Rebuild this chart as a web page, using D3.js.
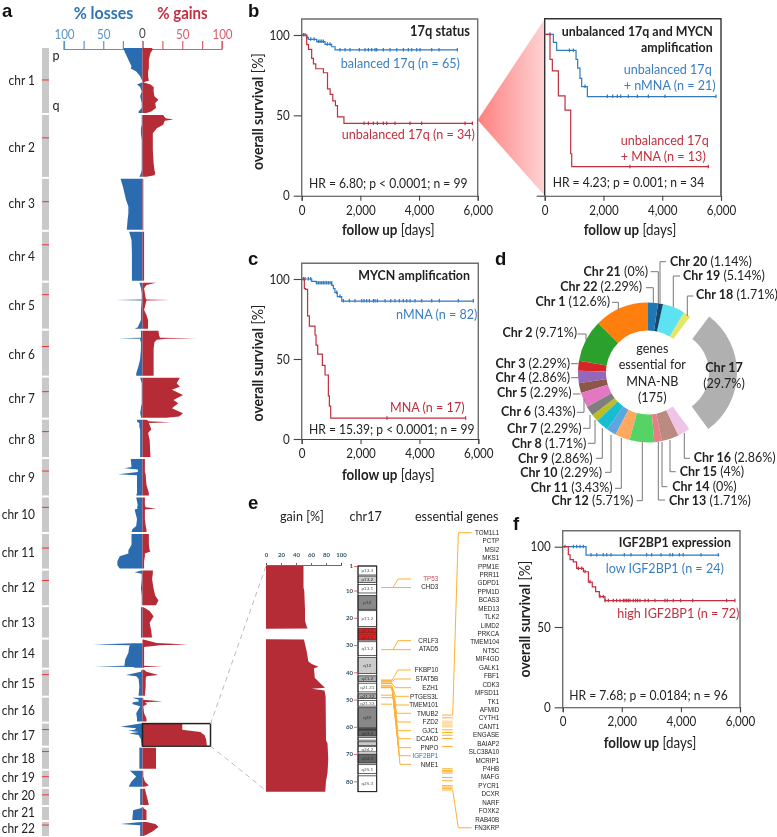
<!DOCTYPE html>
<html><head><meta charset="utf-8">
<script src="https://cdn.jsdelivr.net/npm/d3@7/dist/d3.min.js"></script>
<style>html,body{margin:0;padding:0;background:#fff}svg{display:block;filter:blur(.35px)}text{font-family:Lato,"Open Sans",sans-serif;fill:#222}</style>
</head><body><svg id="c" width="777" height="837"></svg>
<script>
// ---------- panel a data ----------
const chrNames = ["chr 1","chr 2","chr 3","chr 4","chr 5","chr 6","chr 7","chr 8","chr 9","chr 10","chr 11","chr 12","chr 13","chr 14","chr 15","chr 16","chr 17","chr 18","chr 19","chr 20","chr 21","chr 22"];
const chrLengths = [250,238,196,188,177,173,154,144,140,133,133,133,117,108,100,92,85,81,62,62,50,54];
const centromeres = [123,88,88,50,46,61,54,46,46,38,54,38,null,null,19,null,23,15,23,23,null,12];
// [Mb, % losses, % gains]
const prof1 = [[0,24,12],[6,24,13],[19,22,10],[32,20,9],[45,18,8],[58,16,8],[70,14,8],[79,15,8],[90,8,7],[109,3,7],[126,.5,8],[132,0,1],[140,7,10],[150,3,14],[167,1,14],[186,3,15],[199,2,20],[212,1,16],[231,1,17],[244,5,11],[250,5,5]];
const prof2 = [[0,1,26],[13,1,29],[17,1,39],[22,1,28],[38,1,26],[51,2,18],[70,2,13],[96,1,13],[135,1,13],[186,1,14],[212,1,15],[224,2,16],[232,3,15],[238,4,5]];
const prof3 = [[0,28,1],[29,25,1],[68,22,1],[81,21,1],[106,18,1],[132,18,1],[158,19,1],[196,20,1]];
const prof4 = [[0,17,2],[32,14,2],[83,13.5,2],[188,13.5,2]];
const prof5 = [[0,4,17],[9,3,5],[22,2,2],[41,1,3],[60,1,4],[65,1,5],[67,34,35],[69,1,5],[105,2,2],[124,2,5],[144,2,7],[172,6,7],[177,10,7]];
const prof6 = [[0,2,20],[20,2,21],[27,2,22],[29,31,68],[31,3,30],[35,3,18],[45,2,15],[70,2,14],[110,3,14],[135,5,14],[165,8,14],[173,8,14]];
const prof7 = [[0,3,47],[22,1,43],[35,1,47],[47,1,37],[67,1,51],[86,1,39],[99,1,45],[118,2,37],[137,3,51],[150,2,46],[154,2,30]];
const prof8 = [[0,7,5],[6,7,8],[10,6,35],[13,4,8],[28,4,10],[38,3,11],[51,3,7],[77,3,9],[144,3,10]];
const prof9 = [[0,15,3],[30,14,3],[35,23,3],[40,6,3],[50,6,3],[58,31,4],[62,7,4],[100,7,5],[130,7,8],[140,8,8]];
const prof10 = [[0,8,3],[30,6,3],[38,7,4],[42,6,17],[46,10,3],[60,9,3],[83,7,3],[110,8,4],[122,13,5],[133,14,5]];
const prof11 = [[0,14,8],[41,14,8],[62,18,9],[67,18,10],[75,18,3],[85,29,3],[105,32,2],[120,32,2],[133,29,2]];
const prof12 = [[0,1,13],[6,10,13],[12,1,13],[32,1,12],[70,2,14],[96,1,16],[115,1,20],[133,1,17]];
const prof13 = [[0,2,1],[3,2,3],[15,2,9],[35,2,14],[60,2,9],[92,2,11],[117,2,12]];
const prof14 = [[0,0,1],[13,0,18],[19,63,57],[22,16,22],[28,17,2],[51,18,2],[77,22,2],[101,23,2],[103,62,25],[105,12,2],[108,10,2]];
const prof15 = [[0,1,2],[8,2,5],[20,21,20],[25,8,5],[35,5,4],[65,4,4],[100,5,3]];
const prof16 = [[0,13,1],[8,5,1],[15,5,25],[18,12,3],[24,13,6],[33,3,1],[60,8,2],[80,7,5],[92,7,5]];
const prof17 = [[0,3,50],[12,28,50],[18,8,50],[24,10,50],[28,18,60],[32,5,73],[38,17,75],[44,5,78],[60,2,80],[85,1,81]];
const prof18 = [[0,4,17],[81,4,17]];
const prof19 = [[0,16,1],[22,8,1],[41,14,3],[57,17,8],[62,17,2]];
const prof20 = [[0,3,3],[36,3,6],[62,3,8]];
const prof21 = [[0,1,1],[4,1,1],[13,12,5],[50,13,5]];
const prof22 = [[0,2,5],[8,28,16],[13,3,18],[19,3,20],[36,3,13],[49,3,5],[54,3,1]];
const chrProfiles = [prof1,prof2,prof3,prof4,prof5,prof6,prof7,prof8,prof9,prof10,prof11,prof12,prof13,prof14,prof15,prof16,prof17,prof18,prof19,prof20,prof21,prof22];
const pctTicks = [0,25,50,75,100];

// ---------- survival data ----------
const bBalDays=[0,170,227,511,795,1023,1136,5307], bBalSurv=[100,98.5,97.3,95.9,94.2,92.7,90.7,90.7];
const bBalCens=[57,113,170,307,420,568,625,682,739,875,966,1307,1477,1648,1966,2159,2273,2386,2500,2557,2784,3011,3239,3466,3636,3750,3920,4034,4432,4682,5307];
const bUnbDays=[0,170,230,340,400,480,740,880,970,1060,1150,1220,1440,5820], bUnbSurv=[100,94,91,85.5,82,79,76.5,66.5,63,59,56,49,45,45];
const bUnbCens=[2125,2273,2443,2580,2784,2898,3182,3693,4091,5568,5818];
const b2BluDays=[0,295,408,1066,1122,1200,1258,1452,5830], b2BluSurv=[100,95,90,84.5,79,72.7,67.6,61.4,61.4];
const b2BluCens=[180,840,975,1372,2132,2314,2472,2586,2847,3153,3527,4095,5830];
const b2RedDays=[0,180,260,465,692,885,920,950,5570], b2RedSurv=[100,84.5,77.3,61.8,53,26,18,18,18];
const b2RedCens=[2900,5570];
const cBluDays=[0,340,490,1020,1076,1130,1210,1360,1470,5830], cBluSurv=[100,98.5,97.5,96,94,91.5,89,86.2,86.2,86.2];
const cBluCens=[57,113,227,306,510,566,623,680,736,793,849,906,963,1019,1189,1302,1416,1620,1812,2039,2118,2208,2299,2435,2491,2571,2831,3024,3171,3318,3454,3567,3681,3851,4077,4417,4677,5323,5832];
const cRedDays=[0,90,135,200,260,453,487,543,702,793,906,940,985,5570], cRedSurv=[100,94,93.5,77,70.6,65,58.7,53,46,40,27,20.5,13,13];
const cRedCens=[2900,5570];
const fBluDays=[0,790,5300], fBluSurv=[100,94.8,94.8];
const fBluCens=[79,361,474,586,699,958,1150,1375,1488,1635,2086,2311,2841,3010,3326,3630,3720,3946,4081,4679,5265];
const fRedDays=[0,190,250,360,470,700,870,1000,1115,1240,1430,5830], fRedSurv=[100,95,92,90.6,86.5,84.4,78,75,72,68.9,66.4,66.4];
const fRedCens=[530,643,755,924,1263,1375,1432,1545,1714,1826,1939,2052,2108,2165,2221,2277,2390,2469,2537,2616,2785,2897,3123,3461,3540,3743,3991,4397,5547,5829];
const kmDayTicks=[0,2000,4000,6000], kmSurvTicks=[0,50,100];

// ---------- donut data ----------
const donutNames=["Chr 1","Chr 2","Chr 3","Chr 4","Chr 5","Chr 6","Chr 7","Chr 8","Chr 9","Chr 10","Chr 11","Chr 12","Chr 13","Chr 14","Chr 15","Chr 16","Chr 17","Chr 18","Chr 19","Chr 20","Chr 21","Chr 22"];
const donutPct=[12.6,9.71,2.29,2.86,2.29,3.43,2.29,1.71,2.86,2.29,3.43,5.71,1.71,0,4,2.86,29.7,1.71,5.14,1.14,0,2.29];
const donutPctLabels=["12.6%","9.71%","2.29%","2.86%","2.29%","3.43%","2.29%","1.71%","2.86%","2.29%","3.43%","5.71%","1.71%","0%","4%","2.86%","29.7%","1.71%","5.14%","1.14%","0%","2.29%"];
const donutColors=["#ff7f0e","#2ca02c","#d62728","#9467bd","#8c564b","#e377c2","#7f7f7f","#bcbd22","#17becf","#5ba5e0","#ffa960","#55d465","#e57f85","#aaa","#bb8a80","#f0c4e6","#b0b0b0","#e6e566","#5ce2f0","#16466e","#888","#1f77b4"];
// text anchor point + leader polyline, in page pixels (layout)
const donutLayout=[
 {i:0,a:"end",x:610,y:301.7,l:[[612,302.3],[618.3,302.3],[618.3,309.5]]},
 {i:1,a:"end",x:577,y:333,l:[[577.5,334],[586,334],[586,340]]},
 {i:2,a:"end",x:570,y:363.7,l:[[571,363.7],[578.5,363.7]]},
 {i:3,a:"end",x:570,y:377.7,l:[[571,377.7],[578.5,377.7]]},
 {i:4,a:"end",x:571.5,y:393,l:[[573,394],[580.5,394]]},
 {i:5,a:"end",x:575.7,y:411.7,l:[[577,412.3],[584,412.3],[584,399]]},
 {i:6,a:"end",x:581.7,y:428.3,l:[[583,428.3],[590,428.3],[590,415]]},
 {i:7,a:"end",x:586.3,y:443.3,l:[[588,443.3],[595,443.3],[595,420]]},
 {i:8,a:"end",x:592.7,y:458.3,l:[[596,458.3],[602.3,458.3],[602.3,428]]},
 {i:9,a:"end",x:602,y:472.3,l:[[605,472.3],[611,472.3],[611,435]]},
 {i:10,a:"end",x:612.7,y:487.3,l:[[615,488.3],[621.3,488.3],[621.3,438]]},
 {i:11,a:"end",x:633.3,y:500.7,l:[[636.5,500.7],[642.3,500.7],[642.3,442]]},
 {i:12,a:"start",x:669,y:501,l:[[665,500],[658.3,500],[658.3,442]]},
 {i:13,a:"start",x:672.3,y:486.7,l:[[667.3,486.7],[662,486.7],[662,442]]},
 {i:14,a:"start",x:679.7,y:471.7,l:[[675.7,471.7],[670,471.7],[670,440]]},
 {i:15,a:"start",x:693.7,y:457.7,l:[[690,458.3],[684.3,458.3],[684.3,433]]},
 {i:17,a:"start",x:696,y:295,l:[[693.3,296],[687.3,296],[687.3,316]]},
 {i:18,a:"start",x:683,y:276,l:[[680,276],[673.3,276],[673.3,307]]},
 {i:19,a:"start",x:670,y:261.7,l:[[666,261.7],[660,261.7],[660,303.5]]},
 {i:20,a:"end",x:648,y:271.7,l:[[650.7,271.7],[658.3,271.7],[658.3,303.5]]},
 {i:21,a:"end",x:642,y:286.7,l:[[646,287.7],[653.3,287.7],[653.3,303.5]]}
];
const donutCentre=["genes","essential for","MNA-NB","(175)"];

// ---------- panel e data ----------
const gainTicks=[0,20,40,60,80,100];
const mbTicks=[1,10,20,30,40,50,60,70,80];
const chr17Gain=[[1,50],[9,50],[10,51],[17,52],[21,52],[23,54],[23.9,55.5],[24,0],[27.9,0],[28,50.6],[32,54],[36,56.5],[37,61],[38,70],[38.5,64],[42,65],[44.5,74],[45.7,78.7],[46,61],[46.7,78],[49,79.5],[65,80],[66,82],[72,83],[77,82],[80,80],[83.8,79]];
const bandNames=["p13.3","p13.2","p13.1","p12","p11.2","p11.1","q11.1","q11.2","q12","q21.2","q21.31","q21.32","q21.33","q22","","q23.2","","","q24.2","q24.3","q25.1","q25.3"];
const bandStart=[1,4.7,7.8,11.8,17.4,23.8,25.9,28.8,34.5,41.3,44,47.9,50.3,53,60.7,61.2,64,65.5,67.3,70,73.9,78];
const bandEnd=[4.3,7,10.9,16.9,23.2,25.6,28.2,33.9,40.4,43.4,47.2,49.6,52.4,60.4,61,63.4,64.9,66.8,69.2,73.3,77.2,83.8];
const bandFill=["#fff","#ccc","#fff","#888","#fff","#e02020","#e02020","#fff","#ccc","#aaa","#fff","#aaa","#fff","#888","#666","#666","#fff","#ccc","#fff","#666","#fff","#fff"];
const lociTop=[8.9], lociMid=[31.7];
const lociLow=[42.9,43.5,44.1,45,45.6,48.4,49.3,51.7];
const lociRight=[55.7,56.7,57.9,58.3,58.6,59,59.4,59.8,60.1,61.1,62.1,63.1,64.3,67.2,75.4,76,76.5,77,78.6,79.8,81.6,82.1,82.6,83.2];
const genesTop=["TP53","CHD3"], genesMid=["CRLF3","ATAD5"];
const genesLow=["FKBP10","STAT5B","EZH1","PTGES3L","TMEM101","TMUB2","FZD2","GJC1","DCAKD","PNPO","IGF2BP1","NME1"];
const genesRight=["TOM1L1","PCTP","MSI2","MKS1","PPM1E","PRR11","GDPD1","PPM1D","BCAS3","MED13","TLK2","LIMD2","PRKCA","TMEM104","NT5C","MIF4GD","GALK1","FBF1","CDK3","MFSD11","TK1","AFMID","CYTH1","CANT1","ENGASE","BAIAP2","SLC38A10","MCRIP1","P4HB","MAFG","PYCR1","DCXR","NARF","FOXK2","RAB40B","FN3KRP"];

// ---------- drawing ----------
const svg=d3.select("#c");
const BLUE="#2b6cb0",RED="#b52b36",LBL="#2e75b6",LRD="#c2303f";
function T(x,y,s,o={}){const t=svg.append("text").attr("class","ft").attr("x",x).attr("y",y).attr("dy","0.35em").attr("font-size",o.size||13).attr("text-anchor",o.anchor||"start").attr("font-weight",o.bold?700:400).style("fill",o.fill||"#222").text(s);if(o.rot!=null)t.attr("transform",`rotate(${o.rot} ${x} ${y})`);return t;}
function T2(x,y,b,n,o={}){const t=svg.append("text").attr("class",o.raw?null:"ft").attr("x",x).attr("y",y).attr("dy","0.35em").attr("font-size",o.size||13).attr("text-anchor",o.anchor||"start");t.append("tspan").attr("font-weight",700).text(b);t.append("tspan").attr("font-weight",400).text(n);if(o.rot!=null)t.attr("transform",`rotate(${o.rot} ${x} ${y})`);return t;}
[["a",2,16.5],["b",248,16.5],["c",248,265],["d",495,265],["e",248,509],["f",513,530]].forEach(p=>svg.append("text").attr("x",p[1]).attr("y",p[2]).attr("font-size",18.5).attr("font-weight",700).style("font-family","'Liberation Sans',Arial,sans-serif").style("fill","#111").text(p[0]));

// gradient wedge b -> b2
const defs=svg.append("defs");
const g=defs.append("linearGradient").attr("id","wedge");
g.append("stop").attr("offset",0).attr("stop-color","#ff7f7f");
g.append("stop").attr("offset",1).attr("stop-color","#fdd3d3");
svg.append("path").attr("d","M477.7,120L544.7,19V195.7Z").attr("fill","url(#wedge)");

// PANEL A
const total=d3.sum(chrLengths), gapMb=7.7;
const yG=d3.scaleLinear().domain([0,total+gapMb*21]).range([48,836]);
let cum=0; const chrOff=chrLengths.map((l,i)=>{const o=cum;cum+=l+gapMb;return o;});
const xLoss=d3.scaleLinear().domain([0,100]).range([142.5,64]);
const xGain=d3.scaleLinear().domain([0,100]).range([142.5,222]);
T(103.5,13,"% losses",{size:16.5,bold:true,anchor:"middle",fill:LBL});
T(182.5,13,"% gains",{size:15.5,bold:true,anchor:"middle",fill:LRD});
const axA=(sc,col)=>{const a=svg.append("g").attr("transform","translate(0,49)").call(d3.axisTop(sc).tickValues(pctTicks).tickSize(8).tickPadding(2).tickFormat(d=>d>0&&d%50===0?d:""));
 a.selectAll("path,line").attr("stroke",col).attr("stroke-width",1.2);a.selectAll("text").attr("class","ft").attr("font-size",12).style("fill",col);a.select(".domain").attr("d",`M${sc(100)},-8V0.5H${sc(0)}`);};
axA(xLoss,"#5b93c9");axA(xGain,"#d65f6b");
T(142.5,33,"0",{anchor:"middle",size:12,fill:"#444"});
chrNames.forEach((n,i)=>{
 const off=chrOff[i],len=chrLengths[i],gg=svg.append("g");
 gg.append("rect").attr("x",42).attr("width",7).attr("y",yG(off)).attr("height",yG(off+len)-yG(off)).attr("fill","#c9c9c9");
 if(centromeres[i]!=null) gg.append("line").attr("x1",42).attr("x2",49).attr("y1",yG(off+centromeres[i])).attr("y2",yG(off+centromeres[i])).attr("stroke","#e8333a").attr("stroke-width",1);
 const p=chrProfiles[i];
 gg.append("path").datum(p).attr("fill",BLUE).attr("d",d3.area().y(d=>yG(off+d[0])).x0(xLoss(0)).x1(d=>xLoss(d[1])));
 gg.append("path").datum(p).attr("fill",RED).attr("d",d3.area().y(d=>yG(off+d[0])).x0(xGain(0)).x1(d=>xGain(d[2])));
});
const chrLabelY=[80,147,203,256,305.7,354,398,439.7,477,514,552,587,622,653.7,683,710,735,758,777,795.6,812.2,828.8];
chrNames.forEach((n,i)=>T(35,chrLabelY[i],n,{anchor:"end",size:12.3}));
T(56,55,"p",{anchor:"middle",size:13});T(56,105,"q",{anchor:"middle",size:13});
svg.append("rect").attr("x",xGain(0)).attr("y",yG(chrOff[16])).attr("width",68).attr("height",yG(chrOff[16]+chrLengths[16])-yG(chrOff[16])+.5).attr("fill","none").attr("stroke","#222").attr("stroke-width",1.5);

// KM helper
function km(o){
 const x=d3.scaleLinear().domain([0,6000]).range(o.xr);
 const y=d3.scaleLinear().domain([0,100]).range([o.y0,o.y100]);
 const fc=o.frame||"#6e6e6e";
 const gg=svg.append("g");
 gg.append("path").attr("d",`M${o.xr[0]},${o.y0}V${o.top}H${o.xr[1]}V${o.y0}`).attr("fill","none").attr("stroke",fc).attr("stroke-width",1.4);
 const ax=gg.append("g").attr("transform",`translate(0,${o.y0})`).call(d3.axisBottom(x).tickValues(kmDayTicks).tickSize(5).tickPadding(5).tickFormat(d3.format(",")));
 ax.selectAll("text").attr("class","ft").attr("font-size",12).style("fill","#222");ax.selectAll("path,line").attr("stroke","#444").attr("stroke-width",1.1);
 const ay=gg.append("g").attr("transform",`translate(${o.xr[0]},0)`).call(d3.axisLeft(y).tickValues(o.noY?[0]:kmSurvTicks).tickSize(8).tickPadding(4).tickFormat(o.noY?"":d=>d));
 ay.select(".domain").remove();
 ay.selectAll("text").attr("class","ft").attr("font-size",12).style("fill","#222");ay.selectAll("line").attr("stroke","#444").attr("stroke-width",1.1);
 o.series.forEach(s=>{
  const pts=s.d.map((t,i)=>[t,s.s[i]]);
  gg.append("path").datum(pts).attr("fill","none").attr("stroke",s.c).attr("stroke-width",1.2)
   .attr("d",d3.line().x(d=>x(d[0])).y(d=>y(d[1])).curve(d3.curveStepAfter));
  const at=t=>s.s[Math.max(0,d3.bisectRight(s.d,t)-1)];
  gg.append("g").selectAll("line").data(s.cens).join("line").attr("x1",x).attr("x2",x).attr("y1",d=>y(at(d))-2).attr("y2",d=>y(at(d))+1.5).attr("stroke",s.c).attr("stroke-width",1.2);
 });
 T2(o.xlabX,o.xlabY,"follow up"," [days]",{anchor:"middle",size:13.8});
 if(!o.noY)T2(o.ylabX,o.ylabC,"overall survival"," [%]",{anchor:"middle",size:14.5,rot:-90});
}
const cB="#2f7ac0",cR="#c0303f";
km({xr:[301.7,477.7],y0:195.7,y100:35,top:19,xlabX:388.3,xlabY:230,ylabX:258,ylabC:111.7,series:[{d:bBalDays,s:bBalSurv,cens:bBalCens,c:cB},{d:bUnbDays,s:bUnbSurv,cens:bUnbCens,c:cR}]});
T(470,31,"17q status",{anchor:"end",bold:true,size:13.3});
T(340.7,63.3,"balanced 17q (n = 65)",{fill:"#3c7fc0"});
T(341.7,134.3,"unbalanced 17q (n = 34)",{fill:cR});
T(309,183,"HR = 6.80; p < 0.0001; n = 99",{size:12.5});

km({xr:[544.7,721],y0:195.7,y100:34.3,top:18.7,frame:"#333",noY:true,xlabX:630,xlabY:230,series:[{d:b2BluDays,s:b2BluSurv,cens:b2BluCens,c:cB},{d:b2RedDays,s:b2RedSurv,cens:b2RedCens,c:cR}]});
T(712.7,30.7,"unbalanced 17q and MYCN",{anchor:"end",bold:true,size:12.8});
T(712.7,46.7,"amplification",{anchor:"end",bold:true,size:12.8});
T(623.7,69,"unbalanced 17q",{fill:"#3c7fc0"});T(623.7,85.3,"+ nMNA (n = 21)",{fill:"#3c7fc0"});
T(620.7,140,"unbalanced 17q",{fill:cR});T(620.7,156,"+ MNA (n = 13)",{fill:cR});
T(552.7,182.7,"HR = 4.23; p = 0.001; n = 34",{size:12.5});

km({xr:[301.7,478.3],y0:439,y100:279,top:263.3,xlabX:388.3,xlabY:475,ylabX:258,ylabC:363,series:[{d:cBluDays,s:cBluSurv,cens:cBluCens,c:cB},{d:cRedDays,s:cRedSurv,cens:cRedCens,c:cR}]});
T(470,275,"MYCN amplification",{anchor:"end",bold:true,size:12.8});
T(396,314,"nMNA (n = 82)",{fill:"#3c7fc0"});
T(390,406.7,"MNA (n = 17)",{fill:cR});
T(309,429.3,"HR = 15.39; p < 0.0001; n = 99",{size:12.5});

km({xr:[562.7,740],y0:707.3,y100:546.7,top:530.7,xlabX:650,xlabY:742.7,ylabX:524.3,ylabC:619,series:[{d:fBluDays,s:fBluSurv,cens:fBluCens,c:cB},{d:fRedDays,s:fRedSurv,cens:fRedCens,c:cR}]});
T(731,541.7,"IGF2BP1 expression",{anchor:"end",bold:true,size:12.8});
T(605.7,568.3,"low IGF2BP1 (n = 24)",{fill:"#3c7fc0"});
T(617.3,613.3,"high IGF2BP1 (n = 72)",{fill:cR});
T(569.3,695,"HR = 7.68; p = 0.0184; n = 96",{size:12.5});

// PANEL D
const cx=648,cy=372.5;
const pie=d3.pie().sort(null).value(d=>d).startAngle(0).endAngle(-2*Math.PI);
const arc=d3.arc().innerRadius(42).outerRadius(70);
svg.append("g").selectAll("path").data(pie(donutPct)).join("path")
 .attr("transform",(d,i)=>`translate(${cx+(i===16?19:0)},${cy})`).attr("d",arc).attr("fill",(d,i)=>donutColors[i]);
donutLayout.forEach(L=>{
 svg.append("path").attr("d",d3.line()(L.l)).attr("fill","none").attr("stroke","#777").attr("stroke-width",1);
 T2(L.x,L.y,donutNames[L.i]," ("+donutPctLabels[L.i]+")",{anchor:L.a,size:12.5,raw:true});
});
[348.3,364.3,380.7,396.7].forEach((y,i)=>T(652.3,y,donutCentre[i],{anchor:"middle",size:13}));
T(724,367.3,"Chr 17",{anchor:"middle",bold:true});T(724,383.3,"(29.7%)",{anchor:"middle"});

// PANEL E
const yE=d3.scaleLinear().domain([1,80]).range([566,781.3]);
const xE=d3.scaleLinear().domain([0,100]).range([266,341]);
T(302,516,"gain [%]",{anchor:"middle",size:13});T(365.7,516,"chr17",{anchor:"middle",size:13});T(456.7,515.7,"essential genes",{anchor:"middle",size:13});
svg.append("g").attr("stroke","#bbb").attr("stroke-width",1).attr("stroke-dasharray","5,4")
 .selectAll("line").data([[210.5,724,266,566],[210.5,746,266,790.5]]).join("line").attr("x1",d=>d[0]).attr("y1",d=>d[1]).attr("x2",d=>d[2]).attr("y2",d=>d[3]);
svg.append("path").datum(chr17Gain).attr("fill",RED).attr("d",d3.area().y(d=>yE(d[0])).x0(xE(0)).x1(d=>xE(d[1])));
const ae=svg.append("g").attr("transform","translate(0,565)").call(d3.axisTop(xE).tickValues(gainTicks).tickSize(2).tickPadding(6));
ae.selectAll("text").attr("font-size",6).attr("font-weight",700).style("fill","#2f5668");ae.selectAll("path,line").attr("stroke","#444").attr("stroke-width",.8);
const am=svg.append("g").attr("transform","translate(357,0)").call(d3.axisLeft(yE).tickValues(mbTicks).tickSize(3).tickPadding(1));
am.select(".domain").remove();am.selectAll("text").attr("font-size",6).attr("font-weight",700).style("fill","#2f5668");am.selectAll("line").attr("stroke","#e66").attr("stroke-width",1);
const bnd=svg.append("g");
bnd.selectAll("rect").data(bandNames).join("rect").attr("x",358).attr("width",18.7).attr("y",(d,i)=>yE(bandStart[i])).attr("height",(d,i)=>yE(bandEnd[i])-yE(bandStart[i])).attr("fill",(d,i)=>bandFill[i]).attr("stroke","#222").attr("stroke-width",.7);
bnd.append("rect").attr("x",358).attr("width",18.7).attr("y",yE(1)).attr("height",yE(83.8)-yE(1)).attr("fill","none").attr("stroke","#222").attr("stroke-width",1);
bandNames.forEach((n,i)=>{ if(n) svg.append("text").attr("x",367.3).attr("y",(yE(bandStart[i])+yE(bandEnd[i]))/2).attr("dy","0.35em").attr("text-anchor","middle").attr("font-size",4.6).style("fill",bandFill[i]==="#fff"?"#555":"#333").text(n);});

const OR="#ffb030";
const gl=svg.append("g").attr("fill","none").attr("stroke",OR).attr("stroke-width",1);
const pl=pts=>gl.append("path").attr("d",d3.line()(pts));
const gy=i=>532.7+i*8.43;
const yT=yE(lociTop[0]);
pl([[381,yT],[393,yT],[398,579],[411,579]]);pl([[393,yT],[411,yT]]);
const yM=yE(lociMid[0]);
pl([[381,yM],[393,yM],[398,640.7],[411,640.7]]);pl([[393,yM],[411,yM]]);
lociLow.forEach((m,i)=>{const lw=i<5?1.4:1;gl.append("line").attr("x1",381).attr("x2",392).attr("y1",yE(m)).attr("y2",yE(m)).attr("stroke-width",lw);});
const lowY=[670,679,687.7,696.3,705,713.3,722,730.7,738.7,747.7,755.7,764.3];
lowY.forEach((ly,i)=>{const fx=i===0?398:393+Math.max(0,ly-687)*5/77+2;const sy=yE(lociLow[Math.min(i,4)]);pl([[392,sy],[fx,ly],[i===3||i===4?409:411,ly]]);});
lociRight.forEach((m,i)=>gl.append("line").attr("x1",442).attr("x2",452.7).attr("y1",yE(m)).attr("y2",yE(m)).attr("stroke-width",1).attr("stroke-opacity",(i>=2&&i<=8)?.45:1));
pl([[452.7,yE(lociRight[0])],[458.3,gy(0)],[471.7,gy(0)]]);
pl([[452.7,yE(lociRight[23])],[458.3,gy(35)],[471.7,gy(35)]]);
const gT=(x,y,s,fill)=>svg.append("text").attr("x",x).attr("y",y).attr("dy","0.35em").attr("text-anchor","end").attr("font-size",6.3).style("font-family","'Liberation Sans',Arial,sans-serif").style("fill",fill||"#1d1d1d").text(s);
gT(438.3,579,genesTop[0],"#c84a5e");gT(438.3,586.7,genesTop[1]);
gT(438.3,640.7,genesMid[0]);gT(438.3,649,genesMid[1]);
genesLow.forEach((n,i)=>gT(438.3,lowY[i],n,n==="IGF2BP1"?"#2e75b6":"#1d1d1d"));
genesRight.forEach((n,i)=>gT(499.3,gy(i),n));

// Calibri-like proportions: taller, narrower Lato (scaled about each text's anchor)
svg.selectAll("text.ft").each(function(){const s=d3.select(this);if(!this.textContent)return;
 const f=+s.attr("font-size"),x=+s.attr("x")||0,y=+s.attr("y")||0,t=s.attr("transform")||"";
 s.attr("font-size",f*1.077).attr("transform",`${t} translate(${x},${y}) scale(.9,1) translate(${-x},${-y})`);});
</script></body></html>
